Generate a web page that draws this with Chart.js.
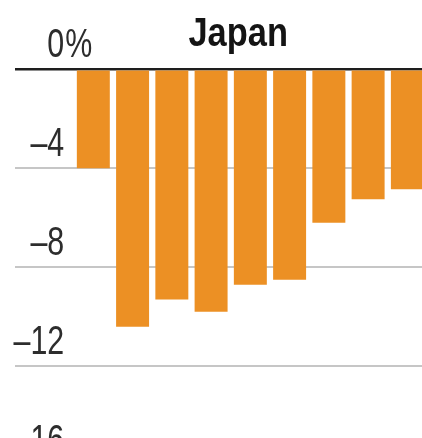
<!DOCTYPE html>
<html>
<head>
<meta charset="utf-8">
<script src="https://cdn.jsdelivr.net/npm/chart.js@4.4.1/dist/chart.umd.min.js"></script>
<style>
  html, body { margin: 0; padding: 0; background: #fff; overflow: hidden; }
  #wrap { width: 422px; height: 438px; overflow: hidden; }
  canvas { display: block; }
</style>
</head>
<body>
<div id="wrap"><canvas id="japanChart" width="427" height="466"></canvas></div>
<script>
// Period-by-period change, percent
const periods = ['1', '2', '3', '4', '5', '6', '7', '8', '9'];
const change = [-4.0, -10.4, -9.3, -9.8, -8.7, -8.5, -6.2, -5.25, -4.85];
const yTicks = [0, -4, -8, -12, -16];

const chartTitle = 'Japan';
const barColor = '#ec9024';

// condensed look: squeeze the text horizontally
function narrowText(ctx, txt, x, y, align, sx) {
  ctx.save();
  ctx.translate(x, y);
  ctx.scale(sx, 1);
  ctx.textAlign = align;
  ctx.fillText(txt, 0, 0);
  ctx.restore();
}

// tick labels sit above their grid line, and the title floats over the bars
const axisText = {
  id: 'axisText',
  afterDraw(chart) {
    const { ctx, chartArea } = chart;
    const y = chart.scales.y;
    const right = chartArea.left - 9.5;

    ctx.save();
    ctx.fillStyle = '#2d2d2d';
    ctx.font = '40px "Liberation Sans", Arial, sans-serif';
    ctx.textBaseline = 'alphabetic';
    yTicks.forEach(v => {
      const py = y.getPixelForValue(v) - 12.5;
      narrowText(ctx, v === 0 ? '0' : '\u2013' + Math.abs(v), right, py, 'right', 0.76);
      if (v === 0) narrowText(ctx, '%', right + 1, py, 'left', 0.76);
    });

    ctx.fillStyle = '#141414';
    ctx.font = 'bold 40px "Liberation Sans", Arial, sans-serif';
    narrowText(ctx, chartTitle, chartArea.left + 164.5, chartArea.top - 23.5, 'center', 0.86);
    ctx.restore();
  }
};

const chartCanvas = document.querySelector('#japanChart');

new Chart(chartCanvas, {
  type: 'bar',
  data: {
    labels: periods,
    datasets: [{
      data: change,
      backgroundColor: barColor,
      borderWidth: 0,
      barPercentage: 0.84,
      categoryPercentage: 1
    }]
  },
  options: {
    responsive: false,
    animation: false,
    devicePixelRatio: 1,
    layout: { padding: { top: 69.3, left: 15, right: 0, bottom: 0.7 } },
    plugins: {
      legend: { display: false },
      title: { display: false },
      tooltip: { enabled: false }
    },
    scales: {
      x: { display: false },
      y: {
        min: -16,
        max: 0,
        afterBuildTicks: axis => {
          axis.ticks = yTicks.map(v => ({ value: v }));
        },
        ticks: { display: false },
        border: { display: false },
        grid: {
          drawTicks: true,
          tickLength: 58.7,
          color: c => c.tick && c.tick.value === 0 ? '#1e1e1e' : '#c6c6c6',
          tickColor: c => c.tick && c.tick.value === 0 ? '#1e1e1e' : '#c6c6c6',
          lineWidth: c => c.tick && c.tick.value === 0 ? 2.5 : 2,
          tickWidth: c => c.tick && c.tick.value === 0 ? 2.5 : 2
        }
      }
    }
  },
  plugins: [axisText]
});
</script>
</body>
</html>
